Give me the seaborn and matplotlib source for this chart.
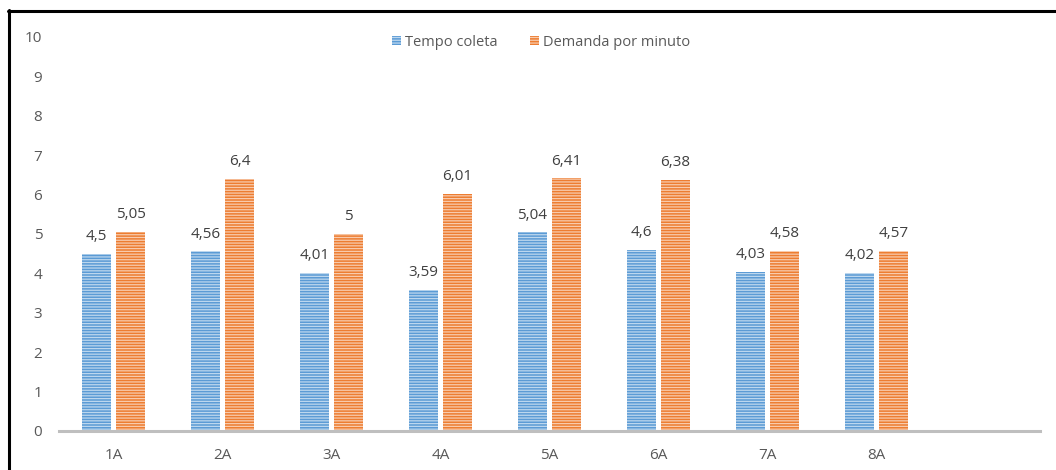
import matplotlib
matplotlib.use('Agg')
import matplotlib.pyplot as plt
import seaborn as sns
import pandas as pd
from matplotlib.lines import Line2D
from matplotlib.patches import Patch

categories = ['1A', '2A', '3A', '4A', '5A', '6A', '7A', '8A']
tempo_coleta = [4.5, 4.56, 4.01, 3.59, 5.04, 4.6, 4.03, 4.02]
demanda_minuto = [5.05, 6.4, 5, 6.01, 6.41, 6.38, 4.58, 4.57]
series_names = ['Tempo coleta', 'Demanda por minuto']
y_ticks = [0, 1, 2, 3, 4, 5, 6, 7, 8, 9, 10]

bar_colors = ['#5B9BD5', '#ED7D31']
stripe_colors = ['#BDD7EE', '#F8CBAD']
text_gray = '#595959'

sns.set_style('white')
plt.rcParams['font.family'] = ['Open Sans', 'DejaVu Sans']
plt.rcParams['hatch.linewidth'] = 0.9

df = pd.DataFrame({
    'cat': categories * 2,
    'val': tempo_coleta + demanda_minuto,
    'serie': [series_names[0]] * len(categories) + [series_names[1]] * len(categories),
})

def fmt(v):
    return ('{:g}'.format(v)).replace('.', ',')

fig = plt.figure(figsize=(10.56, 4.70), dpi=100)
ax = fig.add_axes([59 / 1056, 39 / 470, (1040 - 59) / 1056, (431 - 37) / 470])

sns.barplot(data=df, x='cat', y='val', hue='serie', order=categories,
            hue_order=series_names, palette=bar_colors, width=0.624, gap=0.176,
            ax=ax, legend=False, saturation=1)

for cont, sc, vals in zip(ax.containers, stripe_colors, [tempo_coleta, demanda_minuto]):
    for bar in cont:
        bar.set_hatch('------')
        bar.set_edgecolor(sc)
        bar.set_linewidth(0)
    ax.bar_label(cont, labels=[fmt(v) for v in vals], padding=7,
                 fontsize=11, color='#404040')

ax.set_xlim(-0.5, 8.5)
ax.set_ylim(0, 10)
ax.set_yticks(y_ticks)
ax.set_xlabel('')
ax.set_ylabel('')
for s in ['left', 'right', 'top']:
    ax.spines[s].set_visible(False)
ax.spines['bottom'].set_color('#BFBFBF')
ax.spines['bottom'].set_linewidth(2.2)
ax.tick_params(axis='y', length=0, pad=12, labelsize=11, labelcolor=text_gray)
ax.tick_params(axis='x', length=0, pad=12, labelsize=11, labelcolor=text_gray)

handles = [Patch(facecolor=c, edgecolor=sc, hatch='------', linewidth=0)
           for c, sc in zip(bar_colors, stripe_colors)]
leg = fig.legend(handles, series_names, loc='center', bbox_to_anchor=(541 / 1056, 1 - 42 / 470),
                 ncol=2, frameon=False, fontsize=10.5, handlelength=0.6, handleheight=0.6,
                 handletextpad=0.3, columnspacing=2.2)
for t in leg.get_texts():
    t.set_color(text_gray)

# image frame
fig.add_artist(Line2D([8 / 1056, 1.0], [1 - 11 / 470, 1 - 11 / 470], color='black',
                      linewidth=2.2, transform=fig.transFigure))
fig.add_artist(Line2D([9 / 1056, 9 / 1056], [0, 1 - 10 / 470], color='black',
                      linewidth=2.2, transform=fig.transFigure))

fig.savefig('out.png', dpi=100)
